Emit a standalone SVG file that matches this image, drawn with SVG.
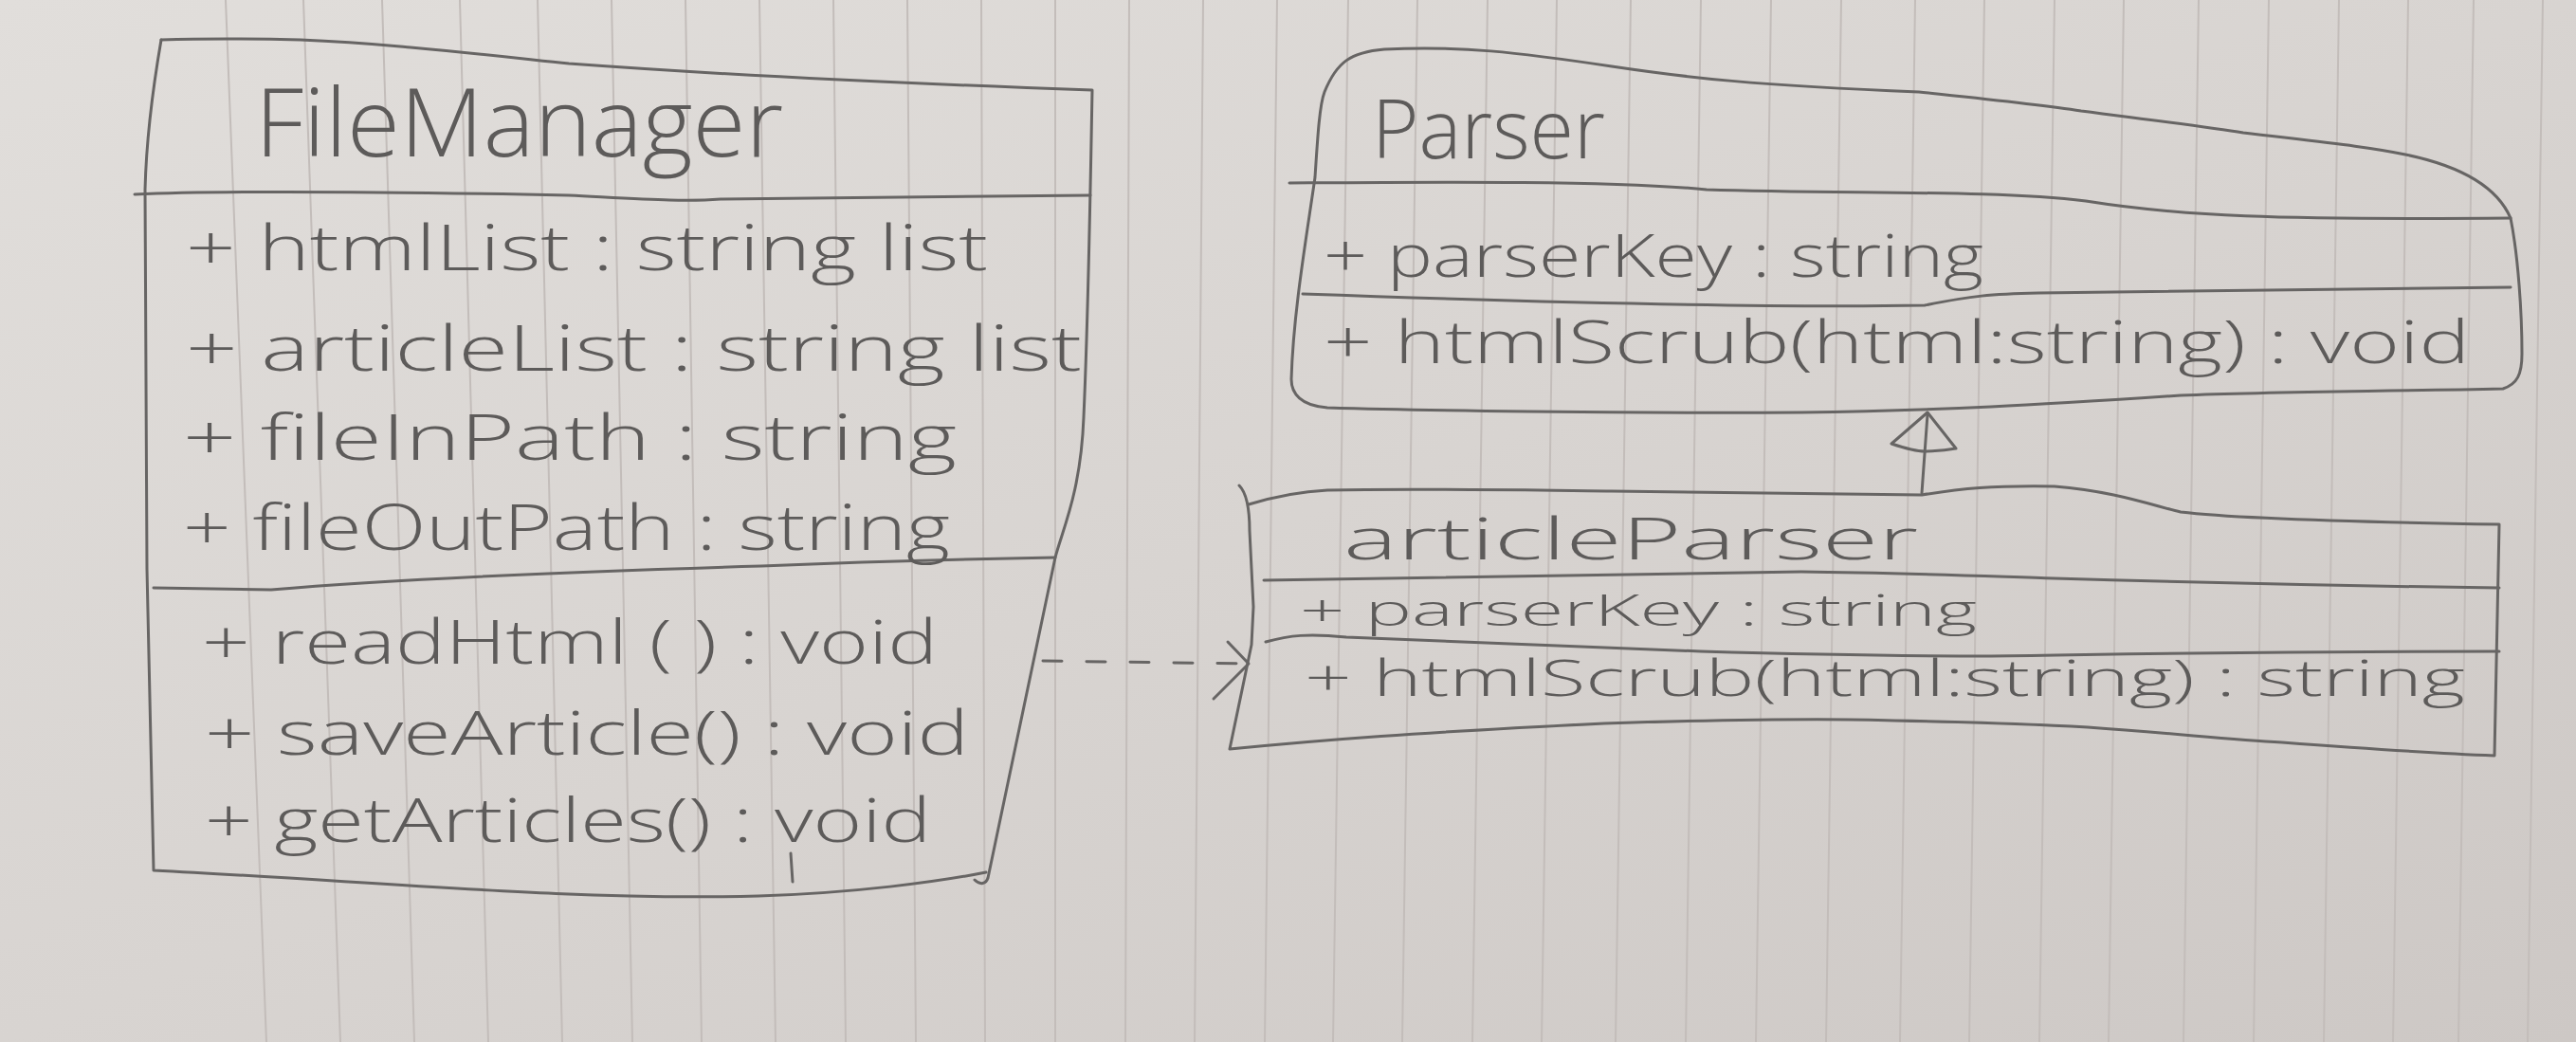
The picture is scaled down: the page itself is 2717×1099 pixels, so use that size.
<svg xmlns="http://www.w3.org/2000/svg" width="2717" height="1099" viewBox="0 0 2717 1099">
<defs>
<linearGradient id="paperGrad" x1="0" y1="0" x2="1" y2="1">
<stop offset="0" stop-color="#e1dedb"/>
<stop offset="0.5" stop-color="#d8d4d1"/>
<stop offset="1" stop-color="#cdc8c5"/>
</linearGradient>
<style>
.rule{stroke:#c3bdba;stroke-width:2;fill:none}
.pen{stroke:#676564;stroke-width:3;fill:none;stroke-linecap:round;stroke-linejoin:round}
.txt{font-family:"Open Sans","DejaVu Sans",sans-serif;font-weight:300;fill:#5d5b5a}
</style>
</defs>
<g id="paper">
<rect x="0" y="0" width="2717" height="1099" fill="url(#paperGrad)"/>
<path class="rule" d="M238,0L281,1099M320,0L359,1099M403,0L437,1099M485,0L515,1099M567,0L593,1099M645,0L667,1099M723,0L740,1099M801,0L818,1099M879,0L892,1099M957,0L966,1099M1035,0L1039,1099M1113,0L1113,1099M1191,0L1187,1099M1269,0L1260,1099M1347,0L1334,1099M1422,0L1406,1099M1495,0L1479,1099M1569,0L1553,1099M1642,0L1626,1099M1720,0L1704,1099M1794,0L1778,1099M1868,0L1852,1099M1942,0L1926,1099M2020,0L2004,1099M2093,0L2077,1099M2167,0L2151,1099M2240,0L2224,1099M2319,0L2303,1099M2393,0L2377,1099M2467,0L2451,1099M2540,0L2524,1099M2609,0L2593,1099M2682,0L2666,1099"/>
</g>
<g id="FileManager">
<path class="pen" d="M170,42 C230,40 280,41 317,42 C370,44 400,47 433,50 C520,58 560,63 600,67 C750,78 950,88 1152,95 C1150,200 1148,330 1143,440 C1140,520 1120,560 1113,588 L1042,926 C1040,932 1034,934 1028,928"/>
<path class="pen" d="M170,42 C160,100 154,160 153,200 L155,600 L162,918 C400,930 600,950 800,945 C900,942 990,930 1040,920"/>
<path class="pen" d="M142,205 C250,200 450,203 600,206 C680,210 720,213 760,210 L1150,206"/>
<path class="pen" d="M162,620 L286,622 C400,612 600,603 803,597 C900,593 1000,590 1113,588"/>
<path class="pen" d="M834,900 L836,930"/>
<text class="txt" x="269" y="165" font-size="100" textLength="557" lengthAdjust="spacingAndGlyphs">FileManager</text>
<text class="txt" x="196" y="285" font-size="66" textLength="846" lengthAdjust="spacingAndGlyphs">+ htmlList : string list</text>
<text class="txt" x="196" y="391" font-size="66" textLength="945" lengthAdjust="spacingAndGlyphs">+ articleList : string list</text>
<text class="txt" x="193" y="485" font-size="66" textLength="816" lengthAdjust="spacingAndGlyphs">+ fileInPath : string</text>
<text class="txt" x="193" y="580" font-size="66" textLength="809" lengthAdjust="spacingAndGlyphs">+ fileOutPath : string</text>
<text class="txt" x="213" y="700" font-size="64" textLength="776" lengthAdjust="spacingAndGlyphs">+ readHtml ( ) : void</text>
<text class="txt" x="216" y="796" font-size="64" textLength="806" lengthAdjust="spacingAndGlyphs">+ saveArticle() : void</text>
<text class="txt" x="216" y="888" font-size="64" textLength="766" lengthAdjust="spacingAndGlyphs">+ getArticles() : void</text>
</g>
<g id="Parser">
<path class="pen" d="M1397,97 C1410,65 1425,55 1460,52 C1540,48 1600,55 1700,70 C1780,82 1850,90 2024,97 C2100,105 2150,110 2195,117 C2280,128 2330,134 2366,140 C2450,150 2500,155 2537,163 C2600,176 2635,200 2648,230 C2656,270 2660,330 2660,373 C2660,395 2655,405 2640,410 C2500,413 2400,413 2300,417 C2150,427 2050,433 1900,435 C1700,436 1500,433 1400,430 C1372,428 1362,415 1362,400 C1364,330 1378,250 1387,187 C1390,140 1392,110 1397,97 Z"/>
<path class="pen" d="M1360,193 C1500,192 1700,190 1800,200 C1950,205 2100,200 2200,212 C2300,228 2400,232 2648,230"/>
<path class="pen" d="M1374,310 C1600,318 1850,325 2030,322 C2080,312 2100,310 2150,309 L2648,303"/>
<text class="txt" x="1447" y="167" font-size="86" textLength="246" lengthAdjust="spacingAndGlyphs">Parser</text>
<text class="txt" x="1396" y="292" font-size="62" textLength="696" lengthAdjust="spacingAndGlyphs">+ parserKey : string</text>
<text class="txt" x="1396" y="383" font-size="62" textLength="1209" lengthAdjust="spacingAndGlyphs">+ htmlScrub(html:string) : void</text>
</g>
<g id="articleParser">
<path class="pen" d="M1307,512 C1315,520 1318,535 1318,560 L1322,640 L1320,680 L1297,790 C1400,780 1488,773 1692,763 C1850,758 1950,758 1998,760 C2100,762 2150,764 2202,767 C2300,774 2350,780 2407,783 C2500,790 2580,795 2631,797 L2636,553 C2450,550 2350,546 2300,540 C2270,533 2230,518 2167,513 C2100,512 2070,515 2027,522 C1950,521 1850,520 1700,518 C1600,517 1500,515 1400,517 C1380,518 1350,522 1317,532"/>
<path class="pen" d="M1333,612 C1500,608 1700,605 1900,603 C2000,604 2100,608 2167,610 C2300,614 2400,617 2636,620"/>
<path class="pen" d="M1335,677 C1360,670 1380,668 1420,672 C1600,680 1700,684 1794,687 C1900,690 2000,692 2100,692 C2250,690 2350,687 2636,687"/>
<text class="txt" x="1417" y="590" font-size="60" textLength="606" lengthAdjust="spacingAndGlyphs">articleParser</text>
<text class="txt" x="1371" y="660" font-size="46" textLength="714" lengthAdjust="spacingAndGlyphs">+ parserKey : string</text>
<text class="txt" x="1376" y="734" font-size="54" textLength="1224" lengthAdjust="spacingAndGlyphs">+ htmlScrub(html:string) : string</text>
</g>
<g id="connectors">
<path class="pen" d="M1100,697 L1317,700" stroke-dasharray="20 26"/>
<path class="pen" d="M1295,677 L1317,700 L1280,737"/>
<path class="pen" d="M2033,437 L2027,520"/>
<path class="pen" d="M2033,435 L1995,468 C2010,473 2020,476 2030,476 C2045,476 2055,474 2063,473 Z"/>
</g>
</svg>
